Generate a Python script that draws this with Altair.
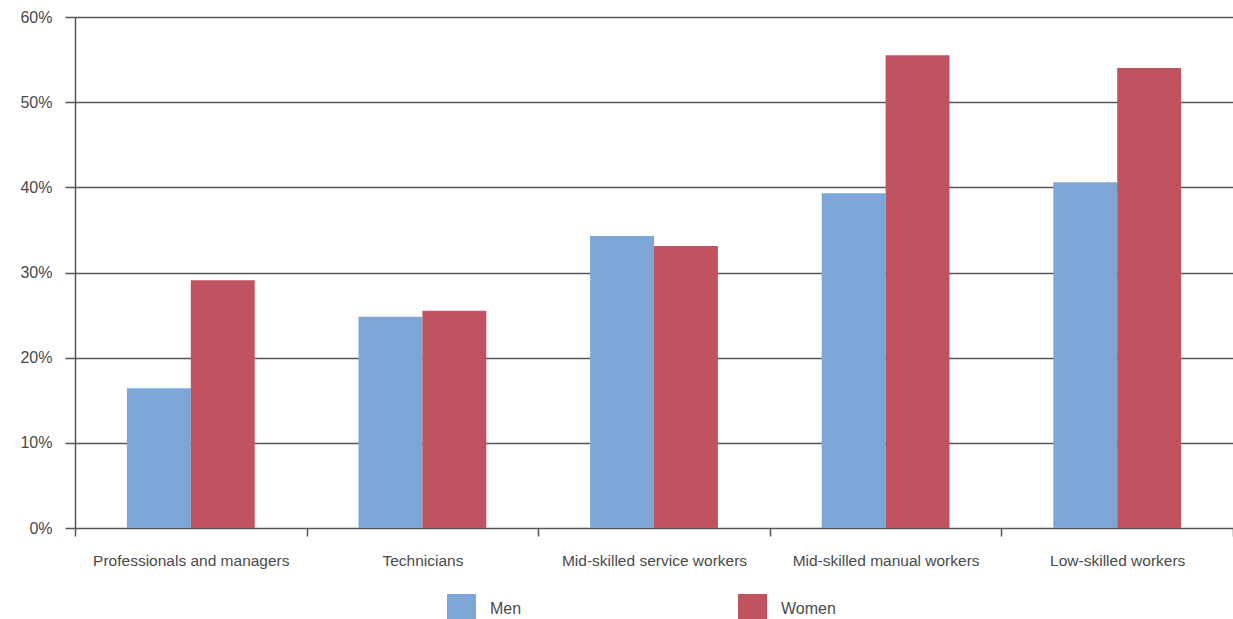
import altair as alt
import pandas as pd

categories = [
    "Professionals and managers",
    "Technicians",
    "Mid-skilled service workers",
    "Mid-skilled manual workers",
    "Low-skilled workers",
]
men = [16.4, 24.8, 34.3, 39.3, 40.6]
women = [29.1, 25.5, 33.1, 55.5, 54.0]
groups = ["Men", "Women"]
colors = ["#7da6d6", "#bf5360"]

rows = []
for i, cat in enumerate(categories):
    rows.append({"category": cat, "group": "Men", "share": men[i] / 100})
    rows.append({"category": cat, "group": "Women", "share": women[i] / 100})
df = pd.DataFrame(rows)

font = "Liberation Sans"
ink = "#4a4a4a"
line = "#555555"

chart = (
    alt.Chart(df)
    .mark_bar()
    .encode(
        x=alt.X(
            "category:N",
            sort=categories,
            title=None,
            scale=alt.Scale(paddingInner=0, paddingOuter=0),
            axis=alt.Axis(
                labelAngle=0,
                tickBand="extent",
                tickSize=8,
                labelPadding=17,
                labelFontSize=15.5,
                labelLimit=400,
                domain=False,
                grid=False,
            ),
        ),
        xOffset=alt.XOffset(
            "group:N",
            sort=groups,
            scale=alt.Scale(paddingInner=0, paddingOuter=0.8125),
        ),
        y=alt.Y(
            "share:Q",
            title=None,
            scale=alt.Scale(domain=[0, 0.6], nice=False),
            axis=alt.Axis(
                format=".0%",
                values=[0, 0.1, 0.2, 0.3, 0.4, 0.5, 0.6],
                tickSize=10,
                labelPadding=13,
                labelFontSize=16,
                grid=True,
                domain=True,
            ),
        ),
        color=alt.Color(
            "group:N",
            sort=groups,
            scale=alt.Scale(domain=groups, range=colors),
            legend=alt.Legend(
                title=None,
                orient="none",
                direction="horizontal",
                legendX=372,
                legendY=577,
                symbolType="square",
                symbolSize=841,
                symbolStrokeWidth=0,
                labelOffset=14,
                columnPadding=216,
                labelFontSize=16,
                labelFont=font,
                labelColor=ink,
            ),
        ),
    )
    .properties(
        width=1158,
        height=511,
        autosize=alt.AutoSizeParams(type="none"),
        padding={"left": 75, "top": 17, "right": 0, "bottom": 91},
    )
    .configure_view(stroke=None)
    .configure_axis(
        labelFont=font,
        labelColor=ink,
        tickColor=line,
        tickWidth=1.5,
        domainColor=line,
        domainWidth=1.5,
        gridColor=line,
        gridWidth=1.5,
        gridOpacity=1,
    )
)

chart.save("out.html", embed_options={"renderer": "svg", "actions": False})
